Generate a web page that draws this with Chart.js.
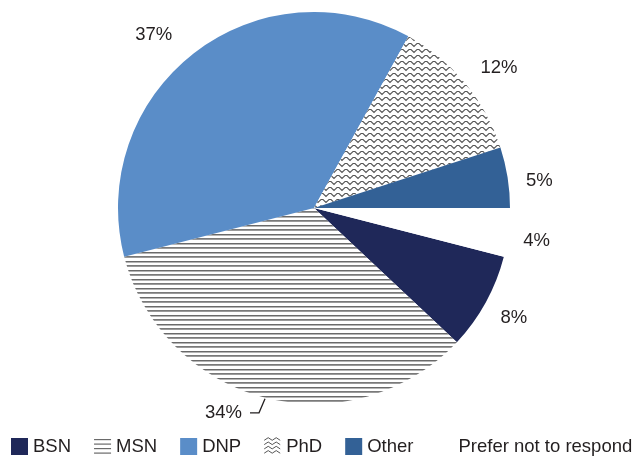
<!DOCTYPE html>
<html>
<head>
<meta charset="utf-8">
<script src="https://cdn.jsdelivr.net/npm/chart.js@4/dist/chart.umd.min.js"></script>
<style>
html,body{margin:0;padding:0;background:#fff;}
#wrap{width:633px;height:457px;position:relative;}
</style>
</head>
<body>
<div id="wrap"><canvas id="c" width="633" height="457"></canvas></div>
<script>
const categories = ["BSN", "MSN", "DNP", "PhD", "Other", "Prefer not to respond"];
const percentValues = [8, 34, 37, 12, 5, 4];
const percentLabels = ["8%", "34%", "37%", "12%", "5%", "4%"];

const FONT = '18.5px "Liberation Sans", Arial, sans-serif';
const TEXT_COLOR = '#231f20';

function linesPattern() {
  const c = document.createElement('canvas');
  c.width = 8; c.height = 9;
  const x = c.getContext('2d');
  x.fillStyle = '#fff'; x.fillRect(0,0,8,9);
  x.fillStyle = '#6a6a6a'; x.fillRect(0,0,8,1);
  x.fillStyle = '#b5b5b5'; x.fillRect(0,1,8,1);
  x.fillStyle = '#7a7a7a'; x.fillRect(0,4,8,1);
  x.fillStyle = '#9a9a9a'; x.fillRect(0,5,8,1);
  return x.createPattern(c, 'repeat');
}
function wavePattern() {
  const c = document.createElement('canvas');
  c.width = 8; c.height = 6;
  const x = c.getContext('2d');
  x.fillStyle = '#fff'; x.fillRect(0,0,8,6);
  x.strokeStyle = '#555'; x.lineWidth = 1.1;
  x.beginPath();
  x.moveTo(-2,4.5); x.lineTo(1,1.5); x.lineTo(3,1.5); x.lineTo(6,4.5); x.lineTo(9,1.5); x.lineTo(11,1.5);
  x.stroke();
  return x.createPattern(c, 'repeat');
}

const fills = ['#1f2859', linesPattern(), '#5a8dc8', wavePattern(), '#336196', '#ffffff'];

const labelTweaks = {
  1: {dAngle: 10, dr: -4, leader: true},
  2: {dAngle: -5, dr: 8},
  3: {dAngle: 2.5, dr: 4},
  4: {dAngle: 2.2, dr: -1},
  5: {dAngle: 1.2, dr: -3}
};

const labelPlugin = {
  id: 'pctLabels',
  afterDraw(chart) {
    const ctx = chart.ctx;
    const meta = chart.getDatasetMeta(0);
    ctx.save();
    ctx.font = FONT;
    ctx.fillStyle = TEXT_COLOR;
    ctx.textBaseline = 'middle';
    meta.data.forEach((arc, i) => {
      const p = arc.getProps(['x','y','startAngle','endAngle','outerRadius'], true);
      const mid = (p.startAngle + p.endAngle) / 2;
      const tw = labelTweaks[i] || {};
      const a = mid + (tw.dAngle || 0) * Math.PI / 180;
      const r = p.outerRadius + 32 + (tw.dr || 0);
      const lx = p.x + Math.cos(a) * r;
      const ly = p.y + Math.sin(a) * r;
      if (tw.leader) {
        const ex = p.x + Math.cos(mid) * (p.outerRadius + 1);
        const ey = p.y + Math.sin(mid) * (p.outerRadius + 1);
        const kx = ex - 6, ky = ey + 14;
        ctx.strokeStyle = '#231f20'; ctx.lineWidth = 1.3;
        ctx.beginPath(); ctx.moveTo(ex, ey); ctx.lineTo(kx, ky); ctx.lineTo(kx - 9, ky); ctx.stroke();
        ctx.textAlign = 'right';
        ctx.fillText(percentLabels[i], kx - 17, ky);
      } else {
        ctx.textAlign = 'center';
        ctx.fillText(percentLabels[i], lx, ly);
      }
    });
    // legend
    let x = 11;
    const y = 446;
    ctx.textAlign = 'left';
    categories.forEach((name, i) => {
      if (i === 1) {
        ctx.fillStyle = '#6a6a6a';
        for (let k = 0; k < 4; k++) ctx.fillRect(x, y - 7 + k * 4.5, 17, 1.2);
      } else if (i === 3) {
        ctx.strokeStyle = '#555'; ctx.lineWidth = 1;
        for (let k = 0; k < 4; k++) {
          const yy = y - 7 + k * 4.3;
          ctx.beginPath();
          for (let j = 0; j <= 4; j++) {
            const xx = x + j * 4;
            const py = yy + (j % 2 ? -1.3 : 1.3);
            if (j === 0) ctx.moveTo(xx, py); else ctx.lineTo(xx, py);
          }
          ctx.stroke();
        }
      } else {
        ctx.fillStyle = fills[i];
        ctx.fillRect(x, y - 8, 17, 17);
      }
      x += 22;
      ctx.fillStyle = TEXT_COLOR;
      ctx.fillText(name, x, y + 1);
      x += ctx.measureText(name).width + 23;
    });
    ctx.restore();
  }
};

new Chart(document.getElementById('c'), {
  type: 'pie',
  data: {
    labels: categories,
    datasets: [{
      data: percentValues,
      backgroundColor: fills,
      borderWidth: 0
    }]
  },
  options: {
    responsive: false,
    animation: false,
    rotation: 104.4,
    layout: {padding: {top: 12, bottom: 53, left: 118, right: 123}},
    plugins: {legend: {display: false}, tooltip: {enabled: false}}
  },
  plugins: [labelPlugin]
});
</script>
</body>
</html>
